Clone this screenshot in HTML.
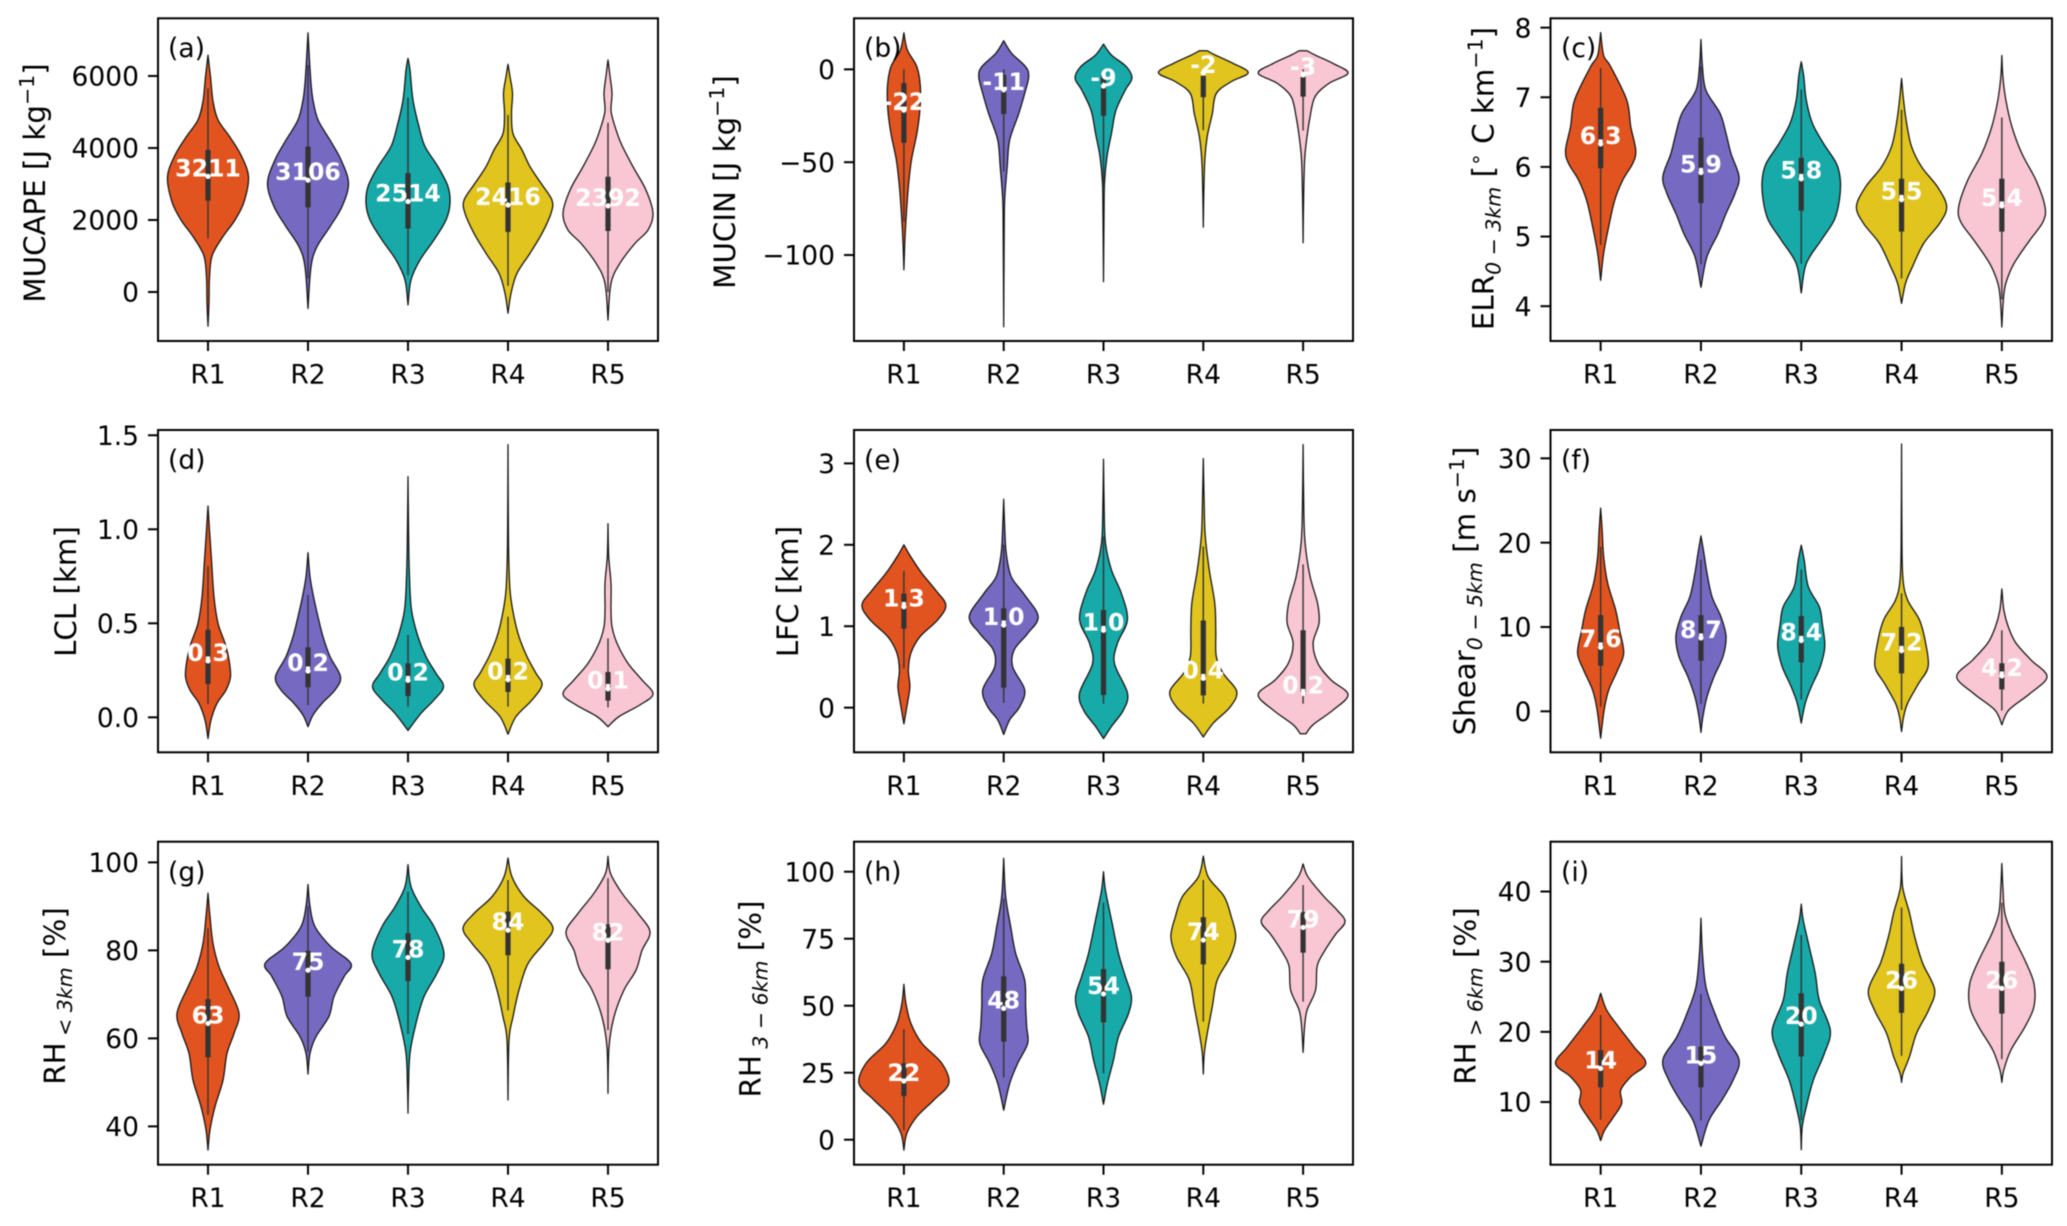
<!DOCTYPE html>
<html lang="en">
<head>
<meta charset="utf-8">
<title>Violin plots of convective parameters by region</title>
<style>
html,body{margin:0;padding:0;background:#fff;}
svg{display:block;font-family:"DejaVu Sans","Liberation Sans",sans-serif;filter:blur(0.4px);}
.ylab{font-size:29.3px;fill:#000;text-anchor:middle;}
.letter{font-size:26.5px;fill:#000;}
.sub{font-size:20.5px;font-style:italic;}
.sup{font-size:20.5px;}
</style>
</head>
<body>
<svg id="figure" xmlns="http://www.w3.org/2000/svg" width="2067" height="1226" viewBox="0 0 2067 1226">
<rect x="0" y="0" width="2067" height="1226" fill="#fff"/>
<g id="plots"></g>
<g>
<text class="ylab" transform="translate(45,183) rotate(-90)">MUCAPE [J kg<tspan class="sup" dy="-11">−1</tspan><tspan dy="11">]</tspan></text>
<text class="ylab" transform="translate(735,182) rotate(-90)">MUCIN [J kg<tspan class="sup" dy="-11">−1</tspan><tspan dy="11">]</tspan></text>
<text class="ylab" transform="translate(1493.5,178.5) rotate(-90)">ELR<tspan class="sub" dy="7" font-style="normal">0 − 3<tspan font-style="italic">km</tspan></tspan><tspan dy="-7"> [</tspan><tspan class="sup" dy="-11">∘</tspan><tspan dy="11"> C km</tspan><tspan class="sup" dy="-11">−1</tspan><tspan dy="11">]</tspan></text>
<text class="ylab" transform="translate(76,591.5) rotate(-90)">LCL [km]</text>
<text class="ylab" transform="translate(798,591.5) rotate(-90)">LFC [km]</text>
<text class="ylab" transform="translate(1475,591) rotate(-90)">Shear<tspan class="sub" dy="7">0 − 5km</tspan><tspan dy="-7"> [m s</tspan><tspan class="sup" dy="-11">−1</tspan><tspan dy="11">]</tspan></text>
<text class="ylab" transform="translate(65,996) rotate(-90)">RH<tspan class="sub" dy="7"> &lt; 3km</tspan><tspan dy="-7"> [%]</tspan></text>
<text class="ylab" transform="translate(760.5,999) rotate(-90)">RH<tspan class="sub" dy="7"> 3 − 6km</tspan><tspan dy="-7"> [%]</tspan></text>
<text class="ylab" transform="translate(1475.5,996) rotate(-90)">RH<tspan class="sub" dy="7"> &gt; 6km</tspan><tspan dy="-7"> [%]</tspan></text>
</g>
<g>
<text class="letter" x="168" y="57">(a)</text>
<text class="letter" x="864" y="57">(b)</text>
<text class="letter" x="1561" y="57">(c)</text>
<text class="letter" x="168" y="469">(d)</text>
<text class="letter" x="864" y="469">(e)</text>
<text class="letter" x="1561" y="469">(f)</text>
<text class="letter" x="168" y="881">(g)</text>
<text class="letter" x="864" y="881">(h)</text>
<text class="letter" x="1561" y="881">(i)</text>
</g>
</svg>
<script>
const categories = ['R1','R2','R3','R4','R5'];
const colors = ['#E1541F','#7669C1','#18A9A9','#E1C41E','#F9C6D3'];

/* (a) MUCAPE */
const aLimits = [-1361, 7602];
const aTicks = [0, 2000, 4000, 6000];
const aTickLabels = ['0','2000','4000','6000'];
const aValues = [
 [6580,5980,5300,4780,4300,3800,3200,2500,2000,1500,1000,400,-300,-950],
 [7200,6440,5800,5330,4780,4220,3670,3020,2370,1815,1260,700,-460],
 [6490,6170,5330,4590,4040,3480,2930,2460,2000,1445,890,333,-360],
 [6325,5980,5520,4960,4400,3945,3480,3020,2550,2185,1630,1075,520,-37,-590],
 [6445,6000,5520,5050,4685,4130,3480,2830,2185,1720,1350,800,240,-780]];
const aDensity = [
 [0,2.5,5,10,22,33,40.5,36,27,14,4,1.5,1,0],
 [0,1.5,3,5,10,22,33,40.5,34,22,9,3,0],
 [0,2,5,11,17,30,40,42,38,26,12,3,0],
 [0,2,4.5,3.5,5,14,22,33,44,43,34,22,9,3,0],
 [0,2,4,3,6,13,25,38,45,40,27,12,3,0]];
const aQ1 = [2537,2350,1760,1670,1695];
const aMedian = [3211,3106,2514,2416,2392];
const aQ3 = [3945,4037,3300,3040,3200];
const aLow = [1490,380,470,170,0];
const aHigh = [5660,6300,5400,4920,4700];
const aLabels = ['3211','3106','2514','2416','2392'];

/* (b) MUCIN */
const bLimits = [-146.3, 27.5];
const bTicks = [-100, -50, 0];
const bTickLabels = ['−100','−50','0'];
const bValues = [
 [19.7,10.4,1.4,-9.3,-22,-34.5,-49,-63,-77.6,-92,-108],
 [15.4,8.6,1.4,-4,-13,-24,-38,-52.4,-70,-88,-138.6],
 [13.6,7.7,1.4,-4.8,-11,-22,-34.5,-47,-61.4,-79,-114.4],
 [10,7.7,3.2,-1.8,-6.6,-13,-24,-36,-49,-67,-85],
 [10,7.7,3.2,-2,-7.5,-14.7,-25.5,-38,-49,-70,-93.4]];
const bDensity = [
 [0,3.5,13,16.5,16,13,7.5,4.5,2.5,1,0],
 [0,8,22,25,21,15,6,3.5,1,0.5,0],
 [0,8,23,28.5,22,12.5,8,3.5,1,0.5,0],
 [4,12,30,45,28,13,9,4,1.5,0.5,0],
 [4,12,30,45,26,12,7,3.5,1.5,0.5,0]];
const bQ1 = [-39.5,-24,-25,-15,-14.7];
const bMedian = [-22,-11,-9,-2,-3];
const bQ3 = [-7.5,-3,-3,-3.5,-4];
const bLow = [-82,-55,-63,-32.7,-33];
const bHigh = [0,0,0,0,0];
const bLabels = ['-22','-11','-9','-2','-3'];

/* (c) ELR 0-3 km */
const cLimits = [3.5, 8.134];
const cTicks = [4,5,6,7,8];
const cTickLabels = ['4','5','6','7','8'];
const cValues = [
 [7.93,7.6,7.44,6.96,6.58,6.24,6.05,5.81,5.52,5.14,4.76,4.37],
 [7.83,7.44,7.1,6.77,6.48,6.19,5.86,5.62,5.33,5.04,4.71,4.27],
 [7.51,7.3,6.96,6.63,6.34,6.05,5.81,5.52,5.24,4.95,4.61,4.19],
 [7.27,6.96,6.63,6.29,6,5.71,5.43,5.19,4.9,4.57,4.33,4.04],
 [7.6,7.3,6.96,6.58,6.19,5.81,5.43,5.21,4.95,4.61,4.33,4.09,3.7]];
const cDensity = [
 [0,3,10,26,30,35,32,22,14,8,3,0],
 [0,1.5,5,19,25,30,38,34,25,17,6,0],
 [0,2.5,5,11,22,35,39,38,33,20,5,0],
 [0,2,5,10,20,36,45,38,22,11,4,0],
 [0,1,4,10,20,34,43,41,28,12,4,1.5,0]];
const cQ1 = [5.98,5.48,5.37,5.07,5.07];
const cMedian = [6.33,5.92,5.83,5.53,5.44];
const cQ3 = [6.85,6.42,6.13,5.83,5.83];
const cLow = [4.88,4.6,4.61,4.4,4.1];
const cHigh = [7.42,7.44,7.11,6.82,6.71];
const cLabels = ['6.3','5.9','5.8','5.5','5.4'];

/* (d) LCL */
const dLimits = [-0.186, 1.528];
const dTicks = [0,0.5,1,1.5];
const dTickLabels = ['0.0','0.5','1.0','1.5'];
const dValues = [
 [1.124,0.996,0.837,0.64,0.5,0.394,0.305,0.216,0.145,0.074,-0.014,-0.113],
 [0.876,0.748,0.642,0.535,0.429,0.323,0.216,0.145,0.074,0.012,-0.05],
 [1.28,0.925,0.748,0.57,0.429,0.323,0.234,0.163,0.092,0.021,-0.07],
 [1.45,0.925,0.677,0.535,0.429,0.323,0.234,0.172,0.092,0.004,-0.09],
 [1.03,0.855,0.713,0.57,0.482,0.394,0.287,0.199,0.124,0.066,0.004,-0.05]];
const dDensity = [
 [0,1.5,3.5,6,10,17,21,22.5,18,9,3,0],
 [0,2,5.5,10,15,22,32.5,27,14,5,0],
 [0,0.7,1.5,3.5,10,18,28,35.5,26,13,0],
 [0,0.5,2,6,11,19,28,34,24,8,0],
 [0,0.7,3,3,4,9,20,34,45,32,11,0]];
const dQ1 = [0.177,0.16,0.113,0.135,0.089];
const dMedian = [0.3,0.246,0.197,0.2,0.152];
const dQ3 = [0.465,0.372,0.287,0.312,0.241];
const dLow = [0.07,0.065,0.057,0.057,0.053];
const dHigh = [0.805,0.65,0.438,0.535,0.42];
const dLabels = ['0.3','0.2','0.2','0.2','0.1'];

/* (e) LFC */
const eLimits = [-0.5485, 3.41];
const eTicks = [0,1,2,3];
const eTickLabels = ['0','1','2','3'];
const eValues = [
 [2,1.85,1.65,1.44,1.26,1.08,0.87,0.67,0.46,0.26,0.05,-0.2],
 [2.56,2.22,1.9,1.61,1.4,1.12,0.91,0.71,0.5,0.22,0.01,-0.15,-0.33],
 [3.05,2.43,2.02,1.69,1.4,1.08,0.79,0.54,0.18,-0.03,-0.23,-0.38],
 [3.06,2.43,2.1,1.69,1.28,0.95,0.63,0.42,0.2,0.01,-0.19,-0.36],
 [3.23,2.43,2.02,1.61,1.28,1.04,0.79,0.54,0.34,0.16,-0.03,-0.21,-0.32]];
const eDensity = [
 [0,7,18,32,42,34,16,7,4.5,6,3.5,0],
 [0,1,2.5,7.5,20,34.5,24,10.5,9,21,16,6,0],
 [0,0.7,2,8,18,24,14,11,24,20,8,0],
 [0,1,2,6,11.5,12.5,13,20,33.5,27,10,0],
 [0,0.7,2,7,14.5,16,10,15,28,45,30,10,3]];
const eQ1 = [0.97,0.245,0.155,0.15,0.155];
const eMedian = [1.24,1.015,0.95,0.36,0.175];
const eQ3 = [1.4,1.22,1.2,1.07,0.95];
const eLow = [0.48,0.06,0.05,0.05,0.05];
const eHigh = [1.68,2,2.1,1.98,1.76];
const eLabels = ['1.3','1.0','1.0','0.4','0.2'];

/* (f) Shear 0-5 km */
const fLimits = [-4.86, 33.36];
const fTicks = [0,10,20,30];
const fTickLabels = ['0','10','20','30'];
const fValues = [
 [24.1,21.5,18.3,15.2,12,9.6,6.9,4.9,2.5,0.16,-3.2],
 [20.8,18.7,16.4,13.6,11.2,8.9,6.5,4.1,1.7,-0.6,-2.5],
 [19.7,17.9,14.8,12.4,10.4,7.7,5.3,2.9,0.95,-1.4],
 [31.7,19.9,15.6,13.2,10.8,8.1,5.3,3.3,0.95,-0.7,-2.4],
 [14.5,12,10,8.1,6.1,4.1,2.1,0.16,-1.6]];
const fDensity = [
 [0,1.5,3,7,15,19,23,17,8,3.5,0],
 [0,3,6,11,20,25,22,13,6,2,0],
 [0,3,7,18,21,23.5,19,10,4,0],
 [0,0.4,1.5,6,18,24,26.5,17,6,2,0],
 [0,2,6.5,14,29,45,28,7,0]];
const fQ1 = [5.4,6,5.8,4.5,2.6];
const fMedian = [7.6,8.7,8.4,7.2,4.2];
const fQ3 = [11.4,11.4,11.3,10,5.7];
const fLow = [0.55,0.9,1.4,0.16,0.08];
const fHigh = [19.5,18,16.8,14,9.6];
const fLabels = ['7.6','8.7','8.4','7.2','4.2'];

/* (g) RH below 3 km */
const gLimits = [31.29, 104.7];
const gTicks = [40,60,80,100];
const gTickLabels = ['40','60','80','100'];
const gValues = [
 [93,87.7,81.6,76.3,71.7,65.7,61.1,56.6,50.5,44.5,39.2,34.6],
 [95,90,85.4,80.8,77,74,69.5,65,60.4,56.6,51.9],
 [99.5,94.5,89.9,85.4,79.3,74.8,69.5,63.4,56.6,49,43],
 [101,96.7,92.2,88.4,85,81.6,77,71,64.9,59.6,46],
 [101.4,97.5,93,88.4,84.2,80,75.5,71,64.9,58,47.5]];
const gDensity = [
 [0,2,5,11,20,31,26,19,15,7,2,0],
 [0,2,7,23,43,36,26,21,8,2,0],
 [0,3,13,26,36,29,16,8,2,0.5,0],
 [0,4,16,34,45,36,20,11,5,1,0],
 [0,2.5,14,30,42,34,28,16,6,1,0]];
const gQ1 = [55.7,69.5,73,78.9,75.7];
const gMedian = [63.4,75.5,78.4,84.6,82.3];
const gQ3 = [68.9,79.9,83.9,88.8,85.9];
const gLow = [42.6,57,61,66.4,61.9];
const gHigh = [85,90,93.3,96,96.4];
const gLabels = ['63','75','78','84','82'];

/* (h) RH 3-6 km */
const hLimits = [-9.33, 111.2];
const hTicks = [0,25,50,75,100];
const hTickLabels = ['0','25','50','75','100'];
const hValues = [
 [58,50.9,43.4,36,28.5,21,14.8,8.6,2.4,-3.9],
 [105,90.7,79.5,69.5,59.6,49.6,42.2,35.9,28.5,21,11],
 [100,93,82,69.5,60.8,53.4,47,38.4,29.7,21,13.2],
 [105.8,98,90.7,83.2,75.7,68.3,59.6,49.6,39.7,32.2,24.5],
 [102.9,98,90.7,85.7,81.3,76.4,69.5,64.6,55.8,48.4,42.2,32.6]];
const hDensity = [
 [0,2,7,18,38,45,30,13,3,0],
 [0,2,7,12,21,22,23,24,14,6,0],
 [0,2,8,15,22,28,25,15,10,4,0],
 [0,5,21,28,32.5,27,14,9,4,1,0],
 [0,5,21,34,42,32,20,14,12.5,4,1.5,0]];
const hQ1 = [16.3,36.6,43.8,65.4,69.8];
const hMedian = [21.9,49,54.4,74.5,79.2];
const hQ3 = [28.5,61,63.7,83,85];
const hLow = [3.6,23.3,24.8,44,51.5];
const hHigh = [41.2,90,88.4,96.9,95];
const hLabels = ['22','48','54','74','79'];

/* (i) RH above 6 km */
const iLimits = [1.07, 47.1];
const iTicks = [10,20,30,40];
const iTickLabels = ['10','20','30','40'];
const iValues = [
 [25.5,23.1,20.7,17.9,15.5,13.6,11.7,9.8,7.9,6,4.5],
 [36.2,31.2,26.4,22.6,19.3,16,13.1,10.3,7.4,3.7],
 [38.2,35.9,32.1,28.3,24.5,20.2,16.9,13.1,9.3,6.5,3.2],
 [45,40.7,36.9,33.6,29.8,26,23.1,19.8,16.5,14.1,12.8],
 [44,40.7,36.9,34,30.2,26.9,23.6,20.7,17.4,14.6,12.8]];
const iDensity = [
 [0,6,18,33,45,30,20,21,13,4,0],
 [0,1.5,5,14,24,38,32,21,8,0],
 [0,2,8,14,18,29,23,12,5,1,0],
 [0,1,8,13,21,33,27,15,8,1.5,0],
 [0,1,3,10,23,32,32,23,9,2,0]];
const iQ1 = [12.1,12.1,16.5,22.7,22.6];
const iMedian = [14.8,15.5,21.1,26.2,26.2];
const iQ3 = [17.4,17.9,25.5,29.7,30];
const iLow = [7.5,7.4,7.4,16.6,16.1];
const iHigh = [22.4,25.4,33.8,37.7,38.4];
const iLabels = ['14','15','20','26','26'];

const columnFrames = [[158,658],[854,1353],[1550.5,2052]];
const rowFrames = [[18.3,341],[430,752.3],[841.7,1164.7]];
const SVGNS = 'http://www.w3.org/2000/svg';
const plots = document.getElementById('plots');

function make(tag, parent, attrs){
  const el = document.createElementNS(SVGNS, tag);
  for (const k in attrs) el.setAttribute(k, attrs[k]);
  parent.appendChild(el);
  return el;
}

function violinPath(cx, ys, hws){
  const right = ys.map((y,i)=>[hws[i],y]);
  let d = 'M' + (cx - hws[0]).toFixed(2) + ' ' + ys[0].toFixed(2) + 'L' + (cx + hws[0]).toFixed(2) + ' ' + ys[0].toFixed(2);
  let seg = '';
  for (let i = 0; i < right.length - 1; i++){
    const p0 = right[Math.max(i-1,0)], p1 = right[i], p2 = right[i+1], p3 = right[Math.min(i+2,right.length-1)];
    const c1x = Math.max(0, p1[0] + (p2[0]-p0[0])/6), c1y = p1[1] + (p2[1]-p0[1])/6;
    const c2x = Math.max(0, p2[0] - (p3[0]-p1[0])/6), c2y = p2[1] - (p3[1]-p1[1])/6;
    seg += 'C' + (cx+c1x).toFixed(2) + ' ' + c1y.toFixed(2) + ' ' + (cx+c2x).toFixed(2) + ' ' + c2y.toFixed(2) + ' ' + (cx+p2[0]).toFixed(2) + ' ' + p2[1].toFixed(2);
  }
  d += seg;
  const n = right.length - 1;
  d += 'L' + (cx - right[n][0]).toFixed(2) + ' ' + right[n][1].toFixed(2);
  for (let i = n; i > 0; i--){
    const p0 = right[Math.min(i+1,n)], p1 = right[i], p2 = right[i-1], p3 = right[Math.max(i-2,0)];
    const c1x = Math.max(0, p1[0] + (p2[0]-p0[0])/6), c1y = p1[1] + (p2[1]-p0[1])/6;
    const c2x = Math.max(0, p2[0] - (p3[0]-p1[0])/6), c2y = p2[1] - (p3[1]-p1[1])/6;
    d += 'C' + (cx-c1x).toFixed(2) + ' ' + c1y.toFixed(2) + ' ' + (cx-c2x).toFixed(2) + ' ' + c2y.toFixed(2) + ' ' + (cx-p2[0]).toFixed(2) + ' ' + p2[1].toFixed(2);
  }
  return d + 'Z';
}

function drawPanel(key, col, row, limits, ticks, tickLabels, values, density, q1, median, q3, low, high, labels){
  const left = columnFrames[col][0], right = columnFrames[col][1];
  const top = rowFrames[row][0], bottom = rowFrames[row][1];
  const xScale = i => left + (i + 0.5) / categories.length * (right - left);
  const yScale = v => bottom - (v - limits[0]) / (limits[1] - limits[0]) * (bottom - top);
  const widthScale = d => d / 100 * (right - left) / categories.length;

  const panel = make('g', plots, {});
  
  

  categories.forEach((cat, i) => {
    const cx = xScale(i);
    const violin = make('path', panel, {
      d: violinPath(cx, values[i].map(yScale), density[i].map(widthScale)),
      fill: colors[i], stroke: '#111', 'stroke-width': 1.25, 'stroke-linejoin': 'round'
    });
    
    

    const whisker = make('line', panel, {
      x1: cx, x2: cx, y1: yScale(high[i]), y2: yScale(low[i]), stroke: '#333', 'stroke-width': 1.4
    });
    
    

    const box = make('line', panel, {
      x1: cx, x2: cx, y1: yScale(q3[i]), y2: yScale(q1[i]), stroke: '#333', 'stroke-width': 5.2
    });
    
    

    const med = make('circle', panel, {
      cx: cx, cy: yScale(median[i]), r: 2.6, fill: '#fff'
    });
    
    

    const lab = make('text', panel, {
      x: cx, y: yScale(median[i]), fill: '#fff', 'font-size': 23.6, 'font-weight': 'bold', 'text-anchor': 'middle'
    });
    lab.textContent = labels[i];
    
    

    const tick = make('line', panel, {
      x1: cx, x2: cx, y1: bottom, y2: bottom + 10, stroke: '#000', 'stroke-width': 2
    });
    
    

    const tl = make('text', panel, {
      x: cx, y: bottom + 42.5, fill: '#000', 'font-size': 26.5, 'text-anchor': 'middle'
    });
    tl.textContent = cat;
    
    
  });

  ticks.forEach((t, i) => {
    const y = yScale(t);
    const tick = make('line', panel, {
      x1: left - 10, x2: left, y1: y, y2: y, stroke: '#000', 'stroke-width': 2
    });
    
    

    const tl = make('text', panel, {
      x: left - 19, y: y + 9.7, fill: '#000', 'font-size': 26.5, 'text-anchor': 'end'
    });
    tl.textContent = tickLabels[i];
    
    
  });

  const frame = make('rect', panel, {
    x: left, y: top, width: right - left, height: bottom - top, fill: 'none', stroke: '#000', 'stroke-width': 2
  });
  
  
}

drawPanel('a',0,0,aLimits,aTicks,aTickLabels,aValues,aDensity,aQ1,aMedian,aQ3,aLow,aHigh,aLabels);
drawPanel('b',1,0,bLimits,bTicks,bTickLabels,bValues,bDensity,bQ1,bMedian,bQ3,bLow,bHigh,bLabels);
drawPanel('c',2,0,cLimits,cTicks,cTickLabels,cValues,cDensity,cQ1,cMedian,cQ3,cLow,cHigh,cLabels);
drawPanel('d',0,1,dLimits,dTicks,dTickLabels,dValues,dDensity,dQ1,dMedian,dQ3,dLow,dHigh,dLabels);
drawPanel('e',1,1,eLimits,eTicks,eTickLabels,eValues,eDensity,eQ1,eMedian,eQ3,eLow,eHigh,eLabels);
drawPanel('f',2,1,fLimits,fTicks,fTickLabels,fValues,fDensity,fQ1,fMedian,fQ3,fLow,fHigh,fLabels);
drawPanel('g',0,2,gLimits,gTicks,gTickLabels,gValues,gDensity,gQ1,gMedian,gQ3,gLow,gHigh,gLabels);
drawPanel('h',1,2,hLimits,hTicks,hTickLabels,hValues,hDensity,hQ1,hMedian,hQ3,hLow,hHigh,hLabels);
drawPanel('i',2,2,iLimits,iTicks,iTickLabels,iValues,iDensity,iQ1,iMedian,iQ3,iLow,iHigh,iLabels);
</script>
</body>
</html>
